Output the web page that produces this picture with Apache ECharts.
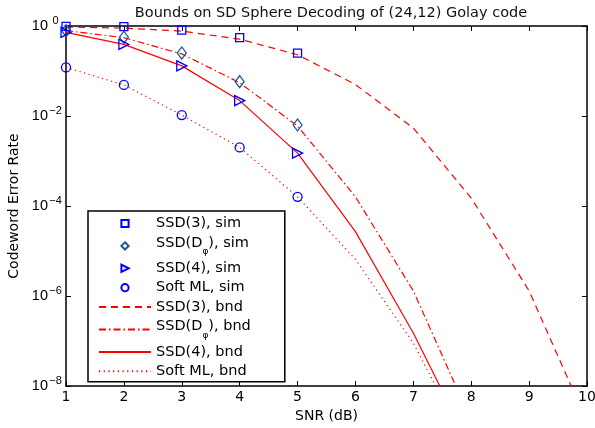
<!DOCTYPE html>
<html><head><meta charset="utf-8">
<script src="https://cdn.jsdelivr.net/npm/echarts@6/dist/echarts.min.js"></script>
<style>html,body{margin:0;padding:0;background:#fff}#c{width:595px;height:428px}</style>
</head><body><div id="c"></div>
<script>
var snrSim = [1, 2, 3, 4, 5];
var snrBnd = [1, 2, 3, 4, 5, 6, 7, 8, 9, 10];
var ssd3Sim = [0.98, 0.97, 0.81, 0.55, 0.25];
var ssdDSim = [0.79, 0.56, 0.25, 0.058, 0.0063];
var ssd4Sim = [0.72, 0.39, 0.13, 0.022, 0.0015];
var mlSim = [0.12, 0.049, 0.0105, 0.0020, 0.00016];
var ssd3Bnd = [0.95, 0.9, 0.77, 0.51, 0.23, 0.05, 0.0054, 1.5e-4, 1.3e-6, 1.6e-9];
var ssdDBnd = [0.79, 0.55, 0.24, 0.055, 0.006, 1.6e-4, 1.3e-6, 1.7e-9, 1e-11, 1e-13];
var ssd4Bnd = [0.72, 0.39, 0.13, 0.022, 0.0015, 2.7e-5, 1.5e-7, 4e-10, 1e-12, 1e-14];
var mlBnd = [0.12, 0.049, 0.0105, 0.0020, 0.00016, 6.5e-6, 9e-8, 3e-10, 1e-12, 1e-14];
var yTicks = [1, 1e-2, 1e-4, 1e-6, 1e-8];
var xTicks = [1, 2, 3, 4, 5, 6, 7, 8, 9, 10];

function pairs(xs, ys) { return ys.map(function (v, i) { return [xs[i], v]; }); }
var FONT = 'DejaVu Sans';
var NFONT = 'Liberation Sans';
var BLUE = '#0000ff', DBLUE = '#1d5a98', RED = '#ff0000';

function simSeries(name, ys, symbol, size, color, rot) {
  return {
    name: name, type: 'line', data: pairs(snrSim, ys), symbol: symbol, symbolSize: size,
    symbolRotate: rot || 0, showSymbol: true, z: 5,
    lineStyle: { opacity: 0, width: 0 },
    itemStyle: { color: 'rgba(255,255,255,0)', borderColor: color, borderWidth: 1.3 }
  };
}
function bndSeries(name, ys, type) {
  return {
    name: name, type: 'line', data: pairs(snrBnd, ys), symbol: 'none', showSymbol: false,
    lineStyle: { color: RED, width: 1.2, type: type },
    itemStyle: { color: 'rgba(0,0,0,0)', borderColor: 'rgba(0,0,0,0)', borderWidth: 0 }, z: 3
  };
}

var chart = echarts.init(document.getElementById('c'), null, { renderer: 'canvas' });
var option = {
  animation: false,
  backgroundColor: '#fff',
  title: {
    text: 'Bounds on SD Sphere Decoding of (24,12) Golay code',
    left: 326, top: 1, textAlign: 'center',
    textStyle: { fontFamily: FONT, fontSize: 14.5, fontWeight: 'normal', color: '#111' }
  },
  grid: { left: 66, right: 8, top: 26, bottom: 42, containLabel: false, outerBoundsMode: 'none' },
  legend: {
    orient: 'vertical', left: 88, top: 211,
    padding: [5, 34, 3, 10], itemWidth: 52, itemHeight: 9, itemGap: 4.4,
    borderColor: '#000', borderWidth: 1.5, backgroundColor: '#fff',
    textStyle: {
      fontFamily: FONT, fontSize: 14.5, color: '#000', lineHeight: 15,
      rich: {
        n: { fontFamily: FONT, fontSize: 14.5, color: '#000', lineHeight: 15, verticalAlign: 'top' },
        sub: { fontFamily: FONT, fontSize: 9, color: '#000', lineHeight: 21, verticalAlign: 'bottom' }
      }
    },
    formatter: function (name) {
      if (name.indexOf('Dφ') >= 0) {
        var parts = name.split('Dφ');
        return '{n|' + parts[0] + 'D}{sub|φ}{n|' + parts[1] + '}';
      }
      return '{n|' + name + '}';
    },
    data: ['SSD(3), sim', 'SSD(Dφ), sim', 'SSD(4), sim', 'Soft ML, sim',
           'SSD(3), bnd', 'SSD(Dφ), bnd', 'SSD(4), bnd', 'Soft ML, bnd']
  },
  xAxis: [{
    type: 'value', min: xTicks[0], max: xTicks[xTicks.length - 1], interval: 1,
    name: 'SNR (dB)', nameLocation: 'middle', nameGap: 21,
    nameTextStyle: { fontFamily: FONT, fontSize: 14, color: '#000' },
    axisLine: { show: true, onZero: false, lineStyle: { color: '#000', width: 1.5 } },
    axisTick: { show: true, inside: true, length: 5, lineStyle: { color: '#000' } },
    axisLabel: { fontFamily: FONT, fontSize: 14, color: '#000', margin: 4 },
    splitLine: { show: false }
  }, {
    type: 'value', position: 'top', min: xTicks[0], max: xTicks[xTicks.length - 1], interval: 1,
    axisLine: { show: true, onZero: false, lineStyle: { color: '#000', width: 1.5 } },
    axisTick: { show: true, inside: true, length: 5, lineStyle: { color: '#000' } },
    axisLabel: { show: false }, splitLine: { show: false }
  }],
  yAxis: [{
    type: 'log', logBase: 100, min: yTicks[yTicks.length - 1], max: yTicks[0],
    name: 'Codeword Error Rate', nameLocation: 'middle', nameGap: 42, nameRotate: 90,
    nameTextStyle: { fontFamily: FONT, fontSize: 14, color: '#000' },
    axisLine: { show: true, onZero: false, lineStyle: { color: '#000', width: 1.5 } },
    axisTick: { show: true, inside: true, length: 5, lineStyle: { color: '#000' } },
    axisLabel: {
      fontFamily: NFONT, fontSize: 14.5, color: '#000', margin: 3,
      formatter: function (v) {
        var e = Math.round(Math.log(v) / Math.LN10);
        return '{b|10}{sup|' + (e === 0 ? '0' : '\u2212' + String(-e)) + '}';
      },
      rich: {
        b: { fontFamily: NFONT, fontSize: 14.5, color: '#000', lineHeight: 15 },
        sup: { fontFamily: NFONT, fontSize: 11, color: '#000', lineHeight: 22, verticalAlign: 'top', width: 15, align: 'left' }
      }
    },
    splitLine: { show: false }
  }, {
    type: 'log', logBase: 100, min: yTicks[yTicks.length - 1], max: yTicks[0], position: 'right',
    axisLine: { show: true, onZero: false, lineStyle: { color: '#000', width: 1.5 } },
    axisTick: { show: true, inside: true, length: 5, lineStyle: { color: '#000' } },
    axisLabel: { show: false }, splitLine: { show: false }
  }],
  series: [
    simSeries('SSD(3), sim', ssd3Sim, 'rect', 8, BLUE),
    simSeries('SSD(Dφ), sim', ssdDSim, 'diamond', [9, 12], DBLUE),
    simSeries('SSD(4), sim', ssd4Sim, 'triangle', [10, 10], BLUE, -90),
    simSeries('Soft ML, sim', mlSim, 'circle', 9, BLUE),
    bndSeries('SSD(3), bnd', ssd3Bnd, [7, 5]),
    bndSeries('SSD(Dφ), bnd', ssdDBnd, [7, 3, 1.5, 3]),
    bndSeries('SSD(4), bnd', ssd4Bnd, 'solid'),
    bndSeries('Soft ML, bnd', mlBnd, [1.2, 3.5])
  ]
};
chart.setOption(option);
</script></body></html>
